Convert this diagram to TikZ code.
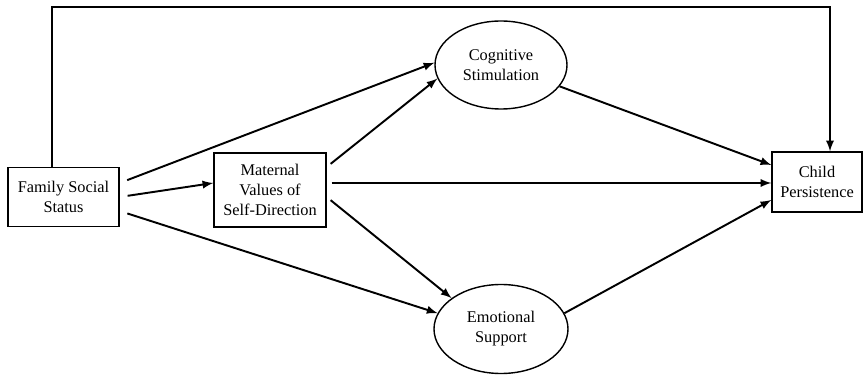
\documentclass[tikz,border=0pt]{standalone}
\usepackage{fontspec}
\setmainfont{Liberation Serif}
\usepackage{tikz}
\usetikzlibrary{shapes.geometric}
\tikzset{>=latex}
\tikzstyle{obs}=[draw,line width=0.8,rectangle,align=center,inner sep=1]
\tikzstyle{latent}=[draw,line width=0.8,ellipse,align=center,inner sep=1]
\tikzstyle{path}=[->,line width=1.1]

\begin{document}
\begin{tikzpicture}[font=\fontsize{9.3}{11.4}\selectfont]
                \useasboundingbox (0,0) rectangle (17.32,-7.54);
                \def\gap{0.16}
                \node[obs,minimum width=2.22cm,minimum height=1.18cm] (fss) at (1.27,-3.94)
                  {Family Social\\Status};
                \node[obs,minimum width=2.24cm,minimum height=1.48cm] (mat) at (5.40,-3.80)
                  {Maternal\\Values of\\Self-Direction};
                \node[latent,minimum width=2.64cm,minimum height=1.76cm] (cog) at (10.02,-1.30)
                  {Cognitive\\Stimulation};
                \node[latent,minimum width=2.68cm,minimum height=1.78cm] (emo) at (10.02,-6.58)
                  {Emotional\\Support};
                \node[obs,minimum width=1.80cm,minimum height=1.20cm] (child) at (16.34,-3.64)
                  {Child\\Persistence};
                \coordinate (top) at (0,-0.14);
                % paths out of family social status
                \draw[path,shorten <=\gap cm] ([yshift=0.28cm]fss.east) -- (cog.178);
                \draw[path,shorten <=\gap cm] (fss.east) -- ([yshift=0.14cm]mat.west);
                \draw[path,shorten <=\gap cm] ([yshift=-0.28cm]fss.east) -- (emo.166);
                \draw[path] ([xshift=-0.23cm]fss.north) -- ([xshift=-0.23cm]fss.north |- top)
                  -| ([xshift=0.26cm]child.north);
                % paths out of maternal values
                \draw[path,shorten <=0.1cm] ([yshift=0.46cm]mat.east) -- (cog.192);
                \draw[path,shorten <=0.1cm] ([yshift=0.14cm]mat.east) -- ([yshift=0.14cm]mat.east -| child.west);
                \draw[path,shorten <=0.1cm] ([yshift=-0.14cm]mat.east) -- (emo.148);
                % paths into child persistence
                \draw[path] (cog.-20) -- ([yshift=0.34cm]child.west);
                \draw[path] (emo.14) -- ([yshift=-0.36cm]child.west);
              \end{tikzpicture}
\end{document}
